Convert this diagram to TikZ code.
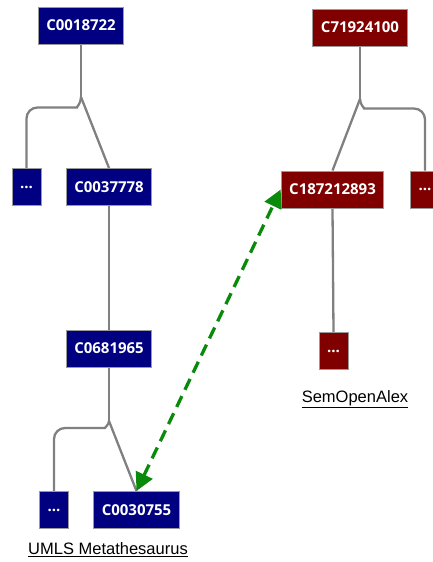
\documentclass[tikz,border=0pt]{standalone}
\usepackage{fontspec}
\setmainfont{Liberation Sans}
\newfontfamily\boxfont{Open Sans}
\usetikzlibrary{arrows.meta}
\definecolor{navyblue}{HTML}{000080}
\definecolor{maroon}{HTML}{800000}
\definecolor{boxedge}{HTML}{9A9A9A}
\definecolor{connc}{HTML}{808080}
\definecolor{linkgreen}{HTML}{0A8A0A}
\begin{document}
\begin{tikzpicture}[x=1pt,y=-1pt,
  cbox/.style={draw=boxedge, line width=1pt, text=white,
    font=\boxfont\bfseries\fontsize{15}{17}\selectfont,
    minimum height=37pt, inner xsep=8pt, inner ysep=0pt},
  umls/.style={cbox, fill=navyblue},
  soa/.style={cbox, fill=maroon},
  dots/.style={minimum width=29pt, inner xsep=0pt},
  conn/.style={draw=connc, line width=2.3pt},
  link/.style={draw=linkgreen, line width=3.3pt, dash pattern=on 12pt off 7pt,
    {Triangle[length=18pt,width=18pt]}-{Triangle[length=18pt,width=18pt]}},
  caption/.style={font=\fontsize{16.5}{19}\selectfont, inner sep=0pt}
]
\clip (0,0) rectangle (433,562);
% left tree (UMLS)
\node[umls] (c1) at (81,25.5) {C0018722};
\node[umls,dots] (d1) at (26.5,187) {...};
\node[umls] (c2) at (109,187) {C0037778};
\node[umls] (c3) at (109,348.5) {C0681965};
\node[umls,dots] (d2) at (54,510) {...};
\node[umls] (c4) at (136.5,510) {C0030755};
\node[caption] (lab1) at (108,550) {\underline{UMLS Metathesaurus}};
\coordinate (j1) at (81,97);
\coordinate (j2) at (109,421);
% right tree (SemOpenAlex)
\node[soa] (r1) at (360,27.5) {C71924100};
\node[soa] (r2) at (332.5,189.5) {C187212893};
\node[soa,dots] (r3) at (425,189.5) {...};
\node[soa,dots] (r4) at (333.5,351) {...};
\node[caption] (lab2) at (355,399) {\underline{SemOpenAlex}};
\coordinate (j3) at (360,99);
% connectors
\draw[conn] (c1.south) -- (j1);
\draw[conn] (j1) -- (c2.north);
\draw[conn, rounded corners=11pt] (j1) .. controls (81,104) and (76,107.5) .. (66,107.5) -- (d1.north |- 0,107.5) -- (d1.north);
\draw[conn] (c2.south) -- (c3.north);
\draw[conn] (c3.south) -- (j2);
\draw[conn] (j2) -- (c4.north);
\draw[conn, rounded corners=11pt] (j2) .. controls (109,425) and (104,428) .. (94,428) -- (d2.north |- 0,428) -- (d2.north);
\draw[conn] (r1.south) -- (j3);
\draw[conn] (j3) -- (r2.north);
\draw[conn, rounded corners=11pt] (j3) .. controls (360,105) and (365,108.5) .. (375,108.5) -- (r3.north |- 0,108.5) -- (r3.north);
\draw[conn] (r2.south) -- (r4.north);
% redraw boxes on top of the connector ends
\node[umls] at (c1) {C0018722};
\node[umls] at (c2) {C0037778};
\node[umls] at (c3) {C0681965};
\node[umls] at (c4) {C0030755};
\node[umls,dots] at (d1) {...};
\node[umls,dots] at (d2) {...};
\node[soa] at (r1) {C71924100};
\node[soa] at (r2) {C187212893};
\node[soa,dots] at (r3) {...};
\node[soa,dots] at (r4) {...};
% link
\draw[link] (c4.north) -- (r2.west);
\end{tikzpicture}
\end{document}
